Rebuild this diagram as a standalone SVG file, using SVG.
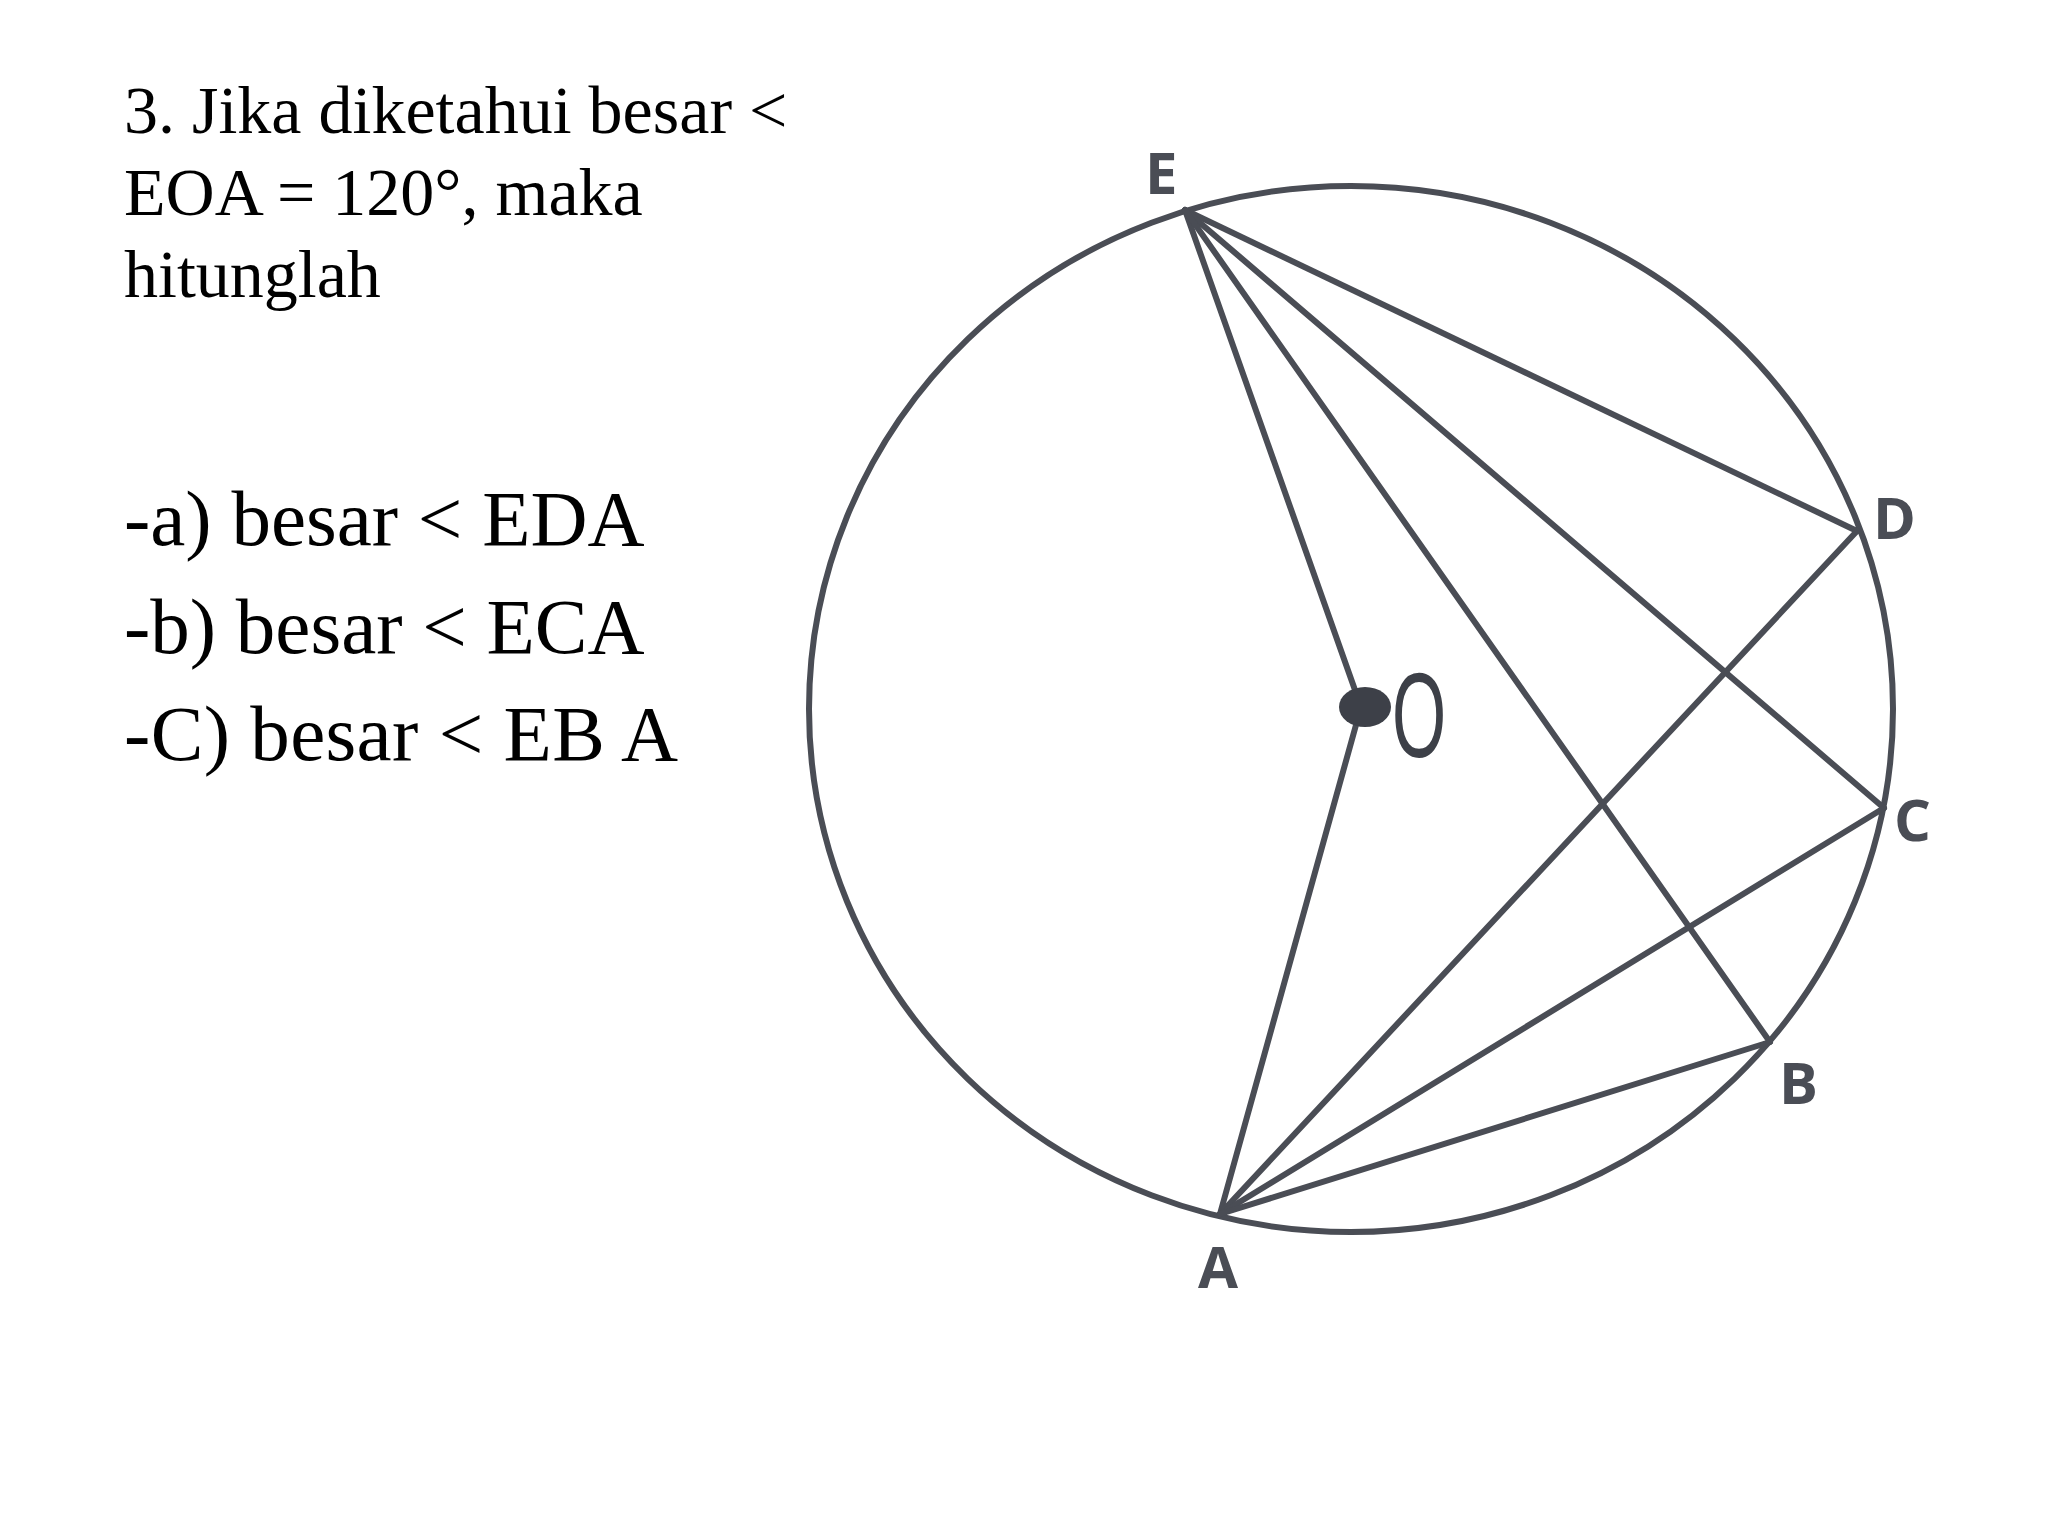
<svg xmlns="http://www.w3.org/2000/svg" width="2048" height="1536" viewBox="0 0 2048 1536">
<style>
.q{font-family:"Liberation Serif","Times New Roman",serif;fill:#000}
.lbl{font-family:"Open Sans","DejaVu Sans",sans-serif;font-weight:bold;font-size:58px;fill:#4a4d55}
.ln{stroke:#4a4d55;stroke-width:6;stroke-linecap:round;stroke-linejoin:round;fill:none}
</style>
<rect width="2048" height="1536" fill="#fff"/>
<g id="question">
<text class="q" font-size="68" x="124" y="133">3. Jika diketahui besar &lt;</text>
<text class="q" font-size="68" x="124" y="215">EOA = 120°, maka</text>
<text class="q" font-size="68" x="124" y="297">hitunglah</text>
<text class="q" font-size="79" x="124" y="545">-a) besar &lt; EDA</text>
<text class="q" font-size="79" x="124" y="653">-b) besar &lt; ECA</text>
<text class="q" font-size="79" x="124" y="760" textLength="554">-C) besar &lt; EB A</text>
</g>
<g id="circle">
<ellipse class="ln" cx="1351" cy="709" rx="542" ry="523"/>
</g>
<g id="connectors">
<polyline class="ln" points="1185,210 1361,707 1220,1214"/>
<line class="ln" x1="1185" y1="210" x2="1857" y2="531"/>
<line class="ln" x1="1185" y1="210" x2="1884" y2="808"/>
<line class="ln" x1="1185" y1="210" x2="1770" y2="1042"/>
<line class="ln" x1="1220" y1="1214" x2="1857" y2="531"/>
<line class="ln" x1="1220" y1="1214" x2="1884" y2="808"/>
<line class="ln" x1="1220" y1="1214" x2="1770" y2="1042"/>
</g>
<g id="node-O">
<ellipse cx="1365" cy="707" rx="26" ry="20" fill="#3d4048"/>
<text font-family="Liberation Sans, Arial, sans-serif" font-size="120" fill="#3d4048" text-anchor="middle" transform="translate(1419,757) scale(0.58,1)">O</text>
</g>
<g id="node-E"><text class="lbl" x="1145" y="194">E</text></g>
<g id="node-D"><text class="lbl" x="1873" y="539">D</text></g>
<g id="node-C"><text class="lbl" x="1894" y="841">C</text></g>
<g id="node-B"><text class="lbl" x="1779" y="1104">B</text></g>
<g id="node-A"><text class="lbl" x="1198" y="1288">A</text></g>
</svg>
